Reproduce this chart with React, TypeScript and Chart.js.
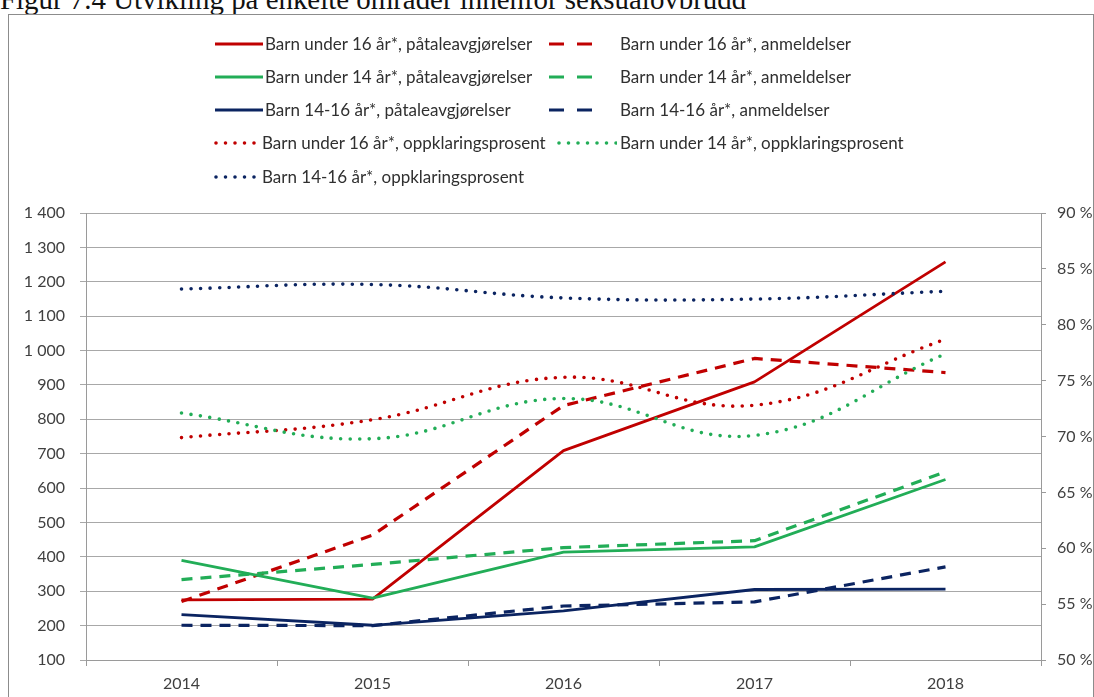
import React, { useEffect, useRef } from "react";
import { Chart, registerables } from "chart.js";

Chart.register(...registerables);

const TITLE = "Figur 7.4 Utvikling på enkelte områder innenfor seksualovbrudd";

const years = ["2014", "2015", "2016", "2017", "2018"];

// Left axis (antall)
const u16Patale = [275, 277, 709, 909, 1258];
const u16Anmeld = [270, 463, 840, 977, 936];
const u14Patale = [390, 280, 414, 429, 625];
const u14Anmeld = [334, 378, 427, 447, 647];
const b1416Patale = [232, 201, 243, 305, 306];
const b1416Anmeld = [201, 200, 257, 269, 371];

// Right axis (prosent)
const u16Oppkl = [69.9, 71.5, 75.3, 72.8, 78.7];
const u14Oppkl = [72.1, 69.8, 73.4, 70.1, 77.4];
const b1416Oppkl = [83.2, 83.6, 82.4, 82.3, 83.0];

const labels = [
  "Barn under 16 år*, påtaleavgjørelser",
  "Barn under 16 år*, anmeldelser",
  "Barn under 14 år*, påtaleavgjørelser",
  "Barn under 14 år*, anmeldelser",
  "Barn 14-16 år*, påtaleavgjørelser",
  "Barn 14-16 år*, anmeldelser",
  "Barn under 16 år*, oppklaringsprosent",
  "Barn under 14 år*, oppklaringsprosent",
  "Barn 14-16 år*, oppklaringsprosent",
];

const RED = "#C00000";
const GREEN = "#22AD57";
const NAVY = "#0B2461";

const DASH = [11, 8];
const DOT = [0, 9.5];

const FONT = "Lato";

type Kind = "solid" | "dash" | "dot";

const legendLayout: { idx: number; color: string; kind: Kind; sx: number; sw: number; tx: number; y: number }[] = [
  { idx: 0, color: RED, kind: "solid", sx: 215, sw: 48, tx: 265, y: 44 },
  { idx: 1, color: RED, kind: "dash", sx: 549, sw: 43, tx: 620, y: 44 },
  { idx: 2, color: GREEN, kind: "solid", sx: 215, sw: 48, tx: 265, y: 77 },
  { idx: 3, color: GREEN, kind: "dash", sx: 549, sw: 43, tx: 620, y: 77 },
  { idx: 4, color: NAVY, kind: "solid", sx: 215, sw: 48, tx: 265, y: 110 },
  { idx: 5, color: NAVY, kind: "dash", sx: 549, sw: 43, tx: 620, y: 110 },
  { idx: 6, color: RED, kind: "dot", sx: 214, sw: 48, tx: 262, y: 143 },
  { idx: 7, color: GREEN, kind: "dot", sx: 557, sw: 60, tx: 620, y: 143 },
  { idx: 8, color: NAVY, kind: "dot", sx: 214, sw: 48, tx: 262, y: 177 },
];

function LegendSymbol({ color, kind, x, w, y }: { color: string; kind: Kind; x: number; w: number; y: number }) {
  const dash = kind === "dash" ? "15 13" : kind === "dot" ? "0 9.5" : undefined;
  return (
    <svg
      width={w}
      height={10}
      style={{ position: "absolute", left: x, top: y - 5 }}
    >
      <line
        x1={kind === "dot" ? 2 : 0}
        y1={5}
        x2={w}
        y2={5}
        stroke={color}
        strokeWidth={kind === "dot" ? 3.6 : 3}
        strokeDasharray={dash}
        strokeLinecap={kind === "dot" ? "round" : "butt"}
      />
    </svg>
  );
}

export default function App() {
  const canvasRef = useRef<HTMLCanvasElement | null>(null);

  useEffect(() => {
    const canvas = canvasRef.current;
    if (!canvas) return;

    const mk = (i: number, data: number[], color: string, kind: Kind, axis: string) => ({
      label: labels[i],
      data,
      borderColor: color,
      backgroundColor: color,
      borderWidth: kind === "dot" ? 3.6 : kind === "dash" ? 3.2 : 2.8,
      borderDash: kind === "dash" ? DASH : kind === "dot" ? DOT : [],
      borderCapStyle: kind === "dot" ? "round" : "butt",
      borderJoinStyle: "round",
      tension: kind === "dot" ? 0.4 : 0,
      pointRadius: 0,
      fill: false,
      yAxisID: axis,
    });

    const chart = new Chart(canvas, {
      type: "line",
      data: {
        labels: years,
        datasets: [
          mk(8, b1416Oppkl, NAVY, "dot", "y1"),
          mk(7, u14Oppkl, GREEN, "dot", "y1"),
          mk(6, u16Oppkl, RED, "dot", "y1"),
          mk(5, b1416Anmeld, NAVY, "dash", "y"),
          mk(4, b1416Patale, NAVY, "solid", "y"),
          mk(3, u14Anmeld, GREEN, "dash", "y"),
          mk(2, u14Patale, GREEN, "solid", "y"),
          mk(1, u16Anmeld, RED, "dash", "y"),
          mk(0, u16Patale, RED, "solid", "y"),
        ] as any,
      },
      options: {
        animation: false,
        responsive: true,
        maintainAspectRatio: false,
        layout: { padding: { top: 198, left: 0, right: 0, bottom: 0 } },
        plugins: {
          legend: { display: false },
          tooltip: { enabled: false },
          title: { display: false },
        },
        scales: {
          x: {
            type: "category",
            offset: true,
            grid: {
              offset: true,
              drawOnChartArea: false,
              drawTicks: true,
              tickLength: 6,
              color: "#9a9a9a",
            },
            border: { display: true, color: "#9a9a9a" },
            ticks: {
              padding: 8,
              color: "#404040",
              font: { family: FONT, size: 16 },
              maxRotation: 0,
            },
            afterFit: (s: any) => {
              s.height = 37;
            },
          },
          y: {
            position: "left",
            min: 100,
            max: 1400,
            grid: {
              color: "#a8a8a8",
              drawTicks: true,
              tickLength: 6,
            },
            border: { display: true, color: "#9a9a9a" },
            ticks: {
              stepSize: 100,
              padding: 15,
              color: "#404040",
              font: { family: FONT, size: 16 },
              callback: (v: any) => {
                const n = Number(v);
                return n >= 1000 ? `${Math.floor(n / 1000)} ${String(n % 1000).padStart(3, "0")}` : String(n);
              },
            },
            afterFit: (s: any) => {
              s.width = 77;
            },
          },
          y1: {
            position: "right",
            min: 50,
            max: 90,
            grid: {
              drawOnChartArea: false,
              drawTicks: true,
              tickLength: 5,
              color: "#9a9a9a",
            },
            border: { display: true, color: "#9a9a9a" },
            ticks: {
              stepSize: 5,
              padding: 11,
              color: "#404040",
              font: { family: FONT, size: 16 },
              callback: (v: any) => `${v} %`,
            },
            afterFit: (s: any) => {
              s.width = 52;
            },
          },
        },
      } as any,
    });

    return () => {
      chart.destroy();
    };
  }, []);

  return (
    <div
      style={{
        position: "fixed",
        left: 0,
        top: 0,
        width: 1094,
        height: 697,
        overflow: "hidden",
        background: "#ffffff",
      }}
    >
      <div
        style={{
          position: "absolute",
          left: 0,
          top: -15,
          fontFamily: "'Liberation Serif', 'Times New Roman', serif",
          fontSize: 28.9,
          lineHeight: 1,
          color: "#111",
          whiteSpace: "nowrap",
        }}
      >
        {TITLE}
      </div>
      <div
        style={{
          position: "absolute",
          left: 8,
          top: 14,
          width: 1084,
          height: 720,
          border: "1px solid #8c8c8c",
          background: "#fff",
        }}
      />
      <div
        style={{
          position: "absolute",
          left: 9,
          top: 15,
          width: 1084,
          height: 682,
        }}
      >
        <canvas ref={canvasRef} />
      </div>
      {legendLayout.map((it) => (
        <React.Fragment key={it.idx}>
          <LegendSymbol color={it.color} kind={it.kind} x={it.sx} w={it.sw} y={it.y} />
          <span
            style={{
              position: "absolute",
              left: it.tx,
              top: it.y - 10,
              lineHeight: "20px",
              fontFamily: FONT,
              fontSize: 17,
              color: "#303030",
              whiteSpace: "nowrap",
            }}
          >
            {labels[it.idx]}
          </span>
        </React.Fragment>
      ))}
    </div>
  );
}
